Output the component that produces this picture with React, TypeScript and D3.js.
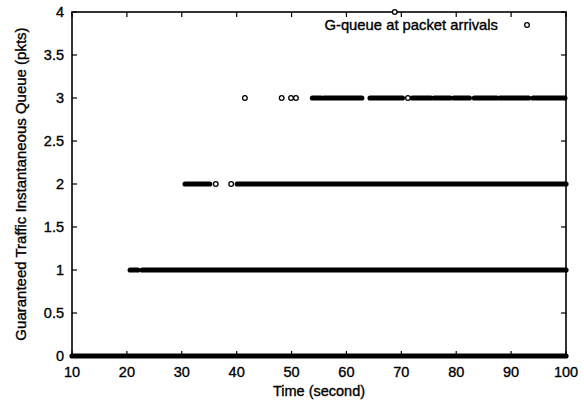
import React from "react";
import * as d3 from "d3";

// Tick values
const xTicks = [10, 20, 30, 40, 50, 60, 70, 80, 90, 100];
const yTicks = [0, 0.5, 1, 1.5, 2, 2.5, 3, 3.5, 4];

// Dense runs of packet arrivals: [queue level, start time, end time]
const runsLevel0 = [[10, 100]];
const runsLevel1 = [[20.6, 22.0], [22.8, 100]];
const runsLevel2 = [[30.6, 35.1], [40.1, 100]];
const runsLevel3 = [
  [53.8, 55.4], [55.9, 62.8], [64.3, 70.2], [72.0, 75.4], [76.0, 78.9],
  [79.6, 82.4], [83.3, 87.4], [88.0, 93.2], [94.0, 99.8],
];

// Isolated arrivals: [time, queue level]
const isolatedPoints = [
  [36.2, 2], [39.0, 2],
  [41.5, 3], [48.2, 3], [49.9, 3], [50.8, 3], [71.2, 3],
  [68.8, 4],
];

const legendLabel = "G-queue at packet arrivals";
const xLabel = "Time (second)";
const yLabel = "Guaranteed Traffic Instantaneous Queue (pkts)";

const W = 584, H = 402;
const M = { left: 72, right: 18, top: 12, bottom: 46 };

export default function App() {
  const x = d3.scaleLinear().domain([10, 100]).range([M.left, W - M.right]);
  const y = d3.scaleLinear().domain([0, 4]).range([H - M.bottom, M.top]);
  const font = "'Liberation Sans', Arial, Helvetica, sans-serif";
  const runs: [number, number[][]][] = [
    [0, runsLevel0], [1, runsLevel1], [2, runsLevel2], [3, runsLevel3],
  ];
  const tl = 5;
  const x0 = x(10), x1 = x(100), y0 = y(0), y1 = y(4);
  const txt = { fontFamily: font, fill: "#000", stroke: "#000", strokeWidth: 0.35 };
  return (
    <svg width={W} height={H} style={{ position: "fixed", left: 0, top: 0, background: "#fff" }}>
      <rect x={0} y={0} width={W} height={H} fill="#fff" />
      {/* ticks */}
      <g stroke="#000" strokeWidth={1.2}>
        {xTicks.map((t) => (
          <g key={"xt" + t}>
            <line x1={x(t)} x2={x(t)} y1={y0} y2={y0 - tl} />
            <line x1={x(t)} x2={x(t)} y1={y1} y2={y1 + tl} />
          </g>
        ))}
        {yTicks.map((t) => (
          <g key={"yt" + t}>
            <line x1={x0} x2={x0 + tl} y1={y(t)} y2={y(t)} />
            <line x1={x1} x2={x1 - tl} y1={y(t)} y2={y(t)} />
          </g>
        ))}
      </g>
      {/* frame */}
      <rect x={x0} y={y1} width={x1 - x0} height={y0 - y1} fill="none" stroke="#000" strokeWidth={1.6} />
      {/* dense runs */}
      <g stroke="#000" strokeWidth={5.2} strokeLinecap="round">
        {runs.map(([lvl, rs]) =>
          rs.map((r, i) => (
            <line key={lvl + "-" + i} x1={x(r[0])} x2={x(r[1])} y1={y(lvl)} y2={y(lvl)} />
          ))
        )}
      </g>
      {/* isolated points */}
      <g stroke="#000" strokeWidth={1.3} fill="#fff">
        {isolatedPoints.map((p, i) => (
          <circle key={i} cx={x(p[0])} cy={y(p[1])} r={2.3} />
        ))}
      </g>
      {/* tick labels */}
      <g {...txt} fontSize={14.5}>
        {xTicks.map((t) => (
          <text key={"xl" + t} x={x(t)} y={y0 + 21} textAnchor="middle">{t}</text>
        ))}
        {yTicks.map((t) => (
          <text key={"yl" + t} x={x0 - 8} y={y(t) + 5} textAnchor="end">{t}</text>
        ))}
      </g>
      {/* axis labels */}
      <text {...txt} x={(x0 + x1) / 2} y={396} textAnchor="middle" fontSize={14.5}>{xLabel}</text>
      <text {...txt} transform={`translate(26, ${(y0 + y1) / 2}) rotate(-90)`} textAnchor="middle" fontSize={15}>{yLabel}</text>
      {/* legend */}
      <text {...txt} x={498} y={30} textAnchor="end" fontSize={14.8}>{legendLabel}</text>
      <circle cx={527} cy={25} r={2.3} fill="#fff" stroke="#000" strokeWidth={1.3} />
    </svg>
  );
}
